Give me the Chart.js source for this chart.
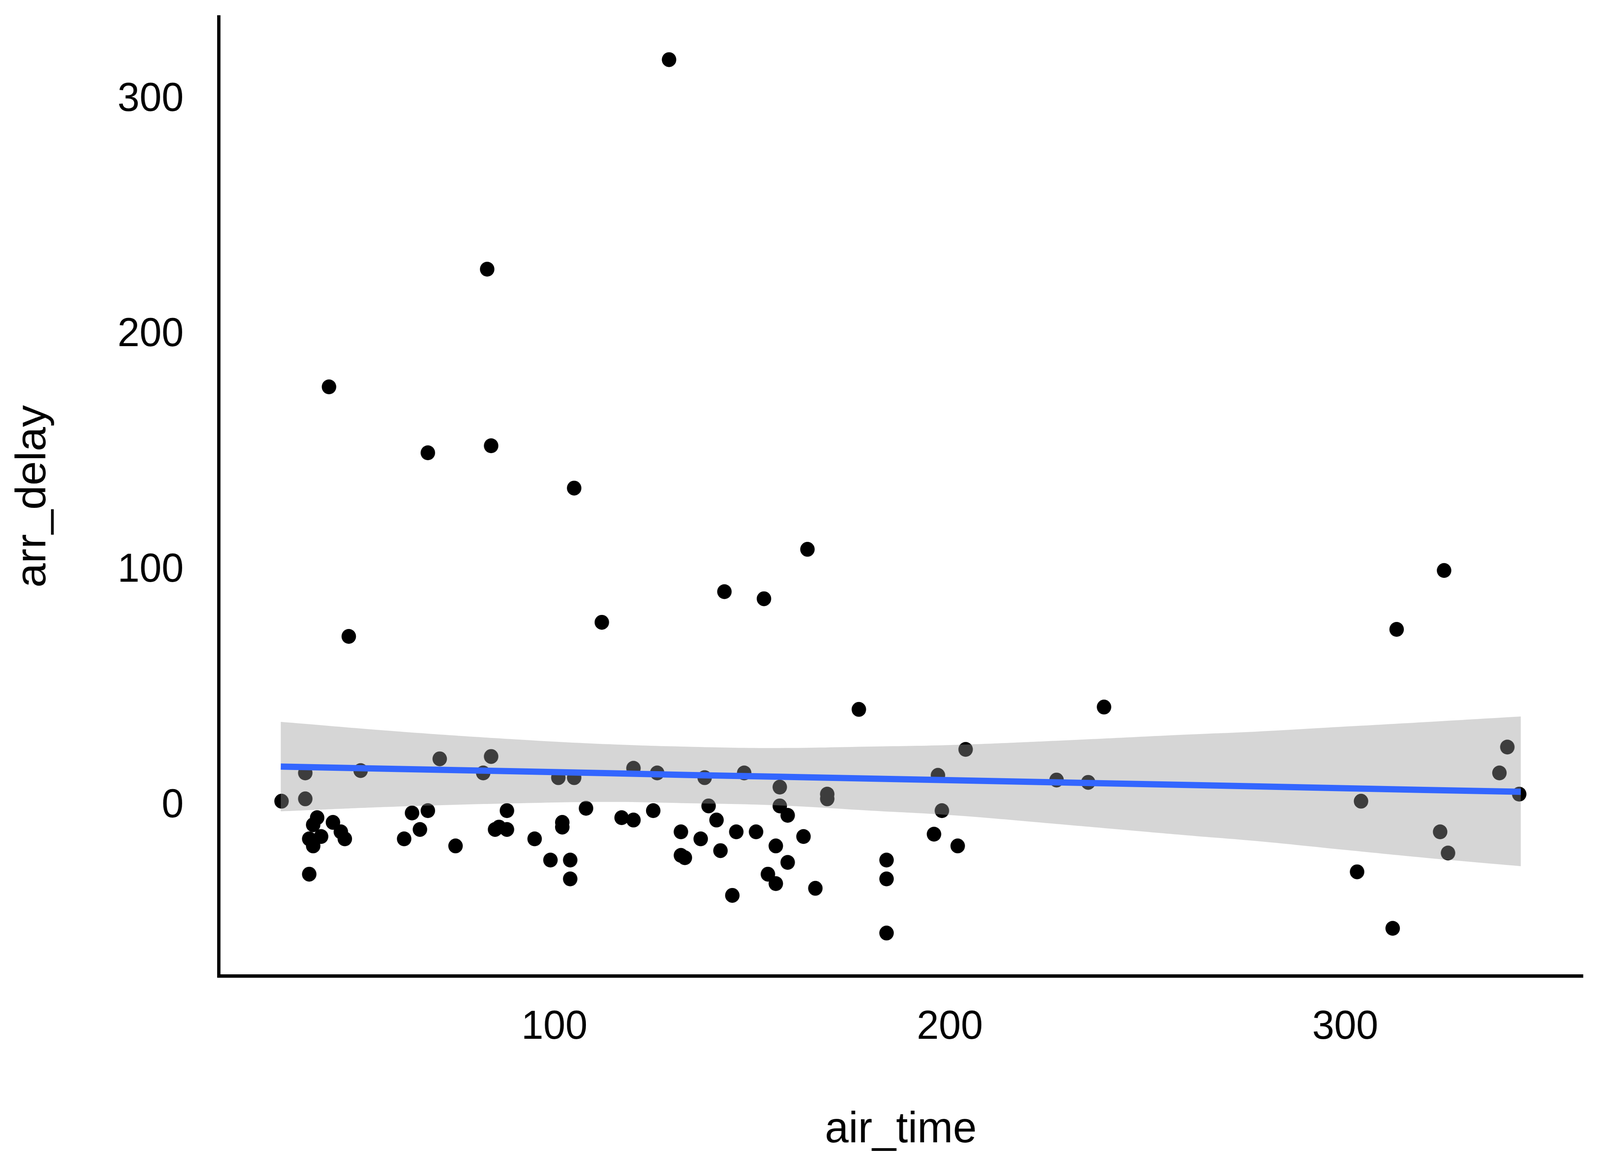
<!DOCTYPE html>
<html>
<head>
<meta charset="utf-8">
<script src="https://cdn.jsdelivr.net/npm/chart.js@4.4.1/dist/chart.umd.min.js"></script>
<style>
  html, body { margin: 0; padding: 0; background: #fff; overflow: hidden; }
  /* drawn at 4200x3000, stretched to whatever the window really is */
  canvas { display: block; }
</style>
</head>
<body>
<canvas id="chart" width="4200" height="3000" style="width:100vw;height:100vh"></canvas>
<script>
// flights sample: air_time vs arr_delay
const airTime = [
  31, 37, 37, 40, 39, 44, 46, 38, 41, 47, 39, 38, 51, 64, 68, 66, 62, 71, 75, 84,
  82, 88, 86, 85, 88, 95, 101, 105, 102, 102, 99, 104, 104, 108, 117,
  120, 126, 138, 148, 157, 169, 169, 197, 204, 198, 120, 125, 139, 141, 132, 137,
  146, 151, 142, 132, 133, 145, 157, 159, 156, 159, 154, 156, 163, 166, 184, 184,
  184, 196, 202, 177,
  239, 227, 235,
  325, 313, 341, 339, 344, 304, 324, 326, 303, 312,
  129, 83, 43, 68, 84, 105, 164, 143, 153, 112, 48
];
const arrDelay = [
  2, 14, 3, -5, -8, -7, -11, -14, -13, -14, -17, -29, 15, -3, -2, -10, -14, 20, -17, 21,
  14, -2, -9, -10, -10, -14, 12, 12, -7, -9, -23, -23, -31, -1, -5,
  16, 14, 12, 14, 8, 5, 3, 13, 24, -2, -6, -2, 0, -6, -11, -14,
  -11, -11, -19, -21, -22, -38, 0, -4, -17, -24, -29, -33, -13, -35, -23, -31,
  -54, -12, -17, 41,
  42, 11, 10,
  100, 75, 25, 14, 5, 2, -11, -20, -28, -52,
  317, 228, 178, 150, 153, 135, 109, 91, 88, 78, 72
];

// linear smooth (geom_smooth method = "lm")
const fitX      = [30.8, 60, 90, 114, 135, 157, 180, 201, 230, 260, 278, 300, 320, 344.4];
const fitY      = [16.7, 15.7, 14.7, 13.9, 13.1, 12.4, 11.6, 10.9, 9.9, 8.9, 8.3, 7.5, 6.8, 6.0];
const bandUpper = [35.7, 31.7, 28.3, 26.2, 25.1, 24.6, 25.2, 25.9, 27.9, 30.3, 31.6, 33.7, 35.6, 38.0];
const bandLower = [-2.3, -0.3, 1.1, 1.7, 1.1, 0.2, -2.0, -4.0, -8.1, -12.5, -15.0, -18.7, -22.0, -25.6];

const xTicks = [100, 200, 300];
const yTicks = [0, 100, 200, 300];

const toXY = (xs, ys) => xs.map((x, i) => ({ x: x, y: ys[i] }));

const tickFont = { family: "'Liberation Sans', Arial, sans-serif", size: 104 };
const titleFont = { family: "'Liberation Sans', Arial, sans-serif", size: 112 };

new Chart(document.getElementById('chart').getContext('2d'), {
  type: 'scatter',
  data: {
    datasets: [
      {
        label: 'flights',
        data: toXY(airTime, arrDelay),
        backgroundColor: '#000000',
        borderWidth: 0,
        pointRadius: 19,
        pointHoverRadius: 19,
        order: 3
      },
      {
        label: 'upper',
        data: toXY(fitX, bandUpper),
        showLine: true,
        borderWidth: 0,
        borderColor: 'rgba(0,0,0,0)',
        pointRadius: 0,
        fill: '+1',
        backgroundColor: 'rgba(153,153,153,0.4)',
        tension: 0.4,
        order: 2
      },
      {
        label: 'lower',
        data: toXY(fitX, bandLower),
        showLine: true,
        borderWidth: 0,
        borderColor: 'rgba(0,0,0,0)',
        pointRadius: 0,
        fill: false,
        tension: 0.4,
        order: 2
      },
      {
        label: 'fit',
        data: toXY(fitX, fitY),
        showLine: true,
        borderColor: '#3366FF',
        borderWidth: 16,
        pointRadius: 0,
        fill: false,
        order: 1
      }
    ]
  },
  options: {
    responsive: false,
    devicePixelRatio: 1,
    animation: false,
    events: [],
    layout: { autoPadding: false, padding: { top: 43, right: 45, left: 0, bottom: 0 } },
    plugins: {
      legend: { display: false },
      tooltip: { enabled: false }
    },
    scales: {
      x: {
        type: 'linear',
        min: 15.1,
        max: 360.1,
        grid: { display: false, drawTicks: false },
        border: { display: true, color: '#000000', width: 8.7 },
        ticks: { color: '#000000', font: tickFont, padding: 70, maxRotation: 0 },
        afterBuildTicks: scale => { scale.ticks = xTicks.map(v => ({ value: v })); },
        afterFit: scale => {
          scale.height = 502;
          scale.paddingLeft = 0;
          scale.paddingRight = 0;
        },
        title: {
          display: true,
          text: 'air_time',
          color: '#000000',
          font: titleFont,
          padding: { top: 0, bottom: 40 }
        }
      },
      y: {
        type: 'linear',
        min: -72.2,
        max: 335.2,
        grid: { display: false, drawTicks: false },
        border: { display: true, color: '#000000', width: 8.7 },
        ticks: { color: '#000000', font: tickFont, padding: 92 },
        afterBuildTicks: scale => { scale.ticks = yTicks.map(v => ({ value: v })); },
        afterFit: scale => {
          scale.width = 574;
          // keep the top tick label from pushing the panel down
          scale.paddingTop = 0;
          scale.paddingBottom = 0;
        },
        title: {
          display: true,
          text: 'arr_delay',
          color: '#000000',
          font: titleFont,
          padding: { top: 21, bottom: 0 }
        }
      }
    }
  }
});
</script>
</body>
</html>
